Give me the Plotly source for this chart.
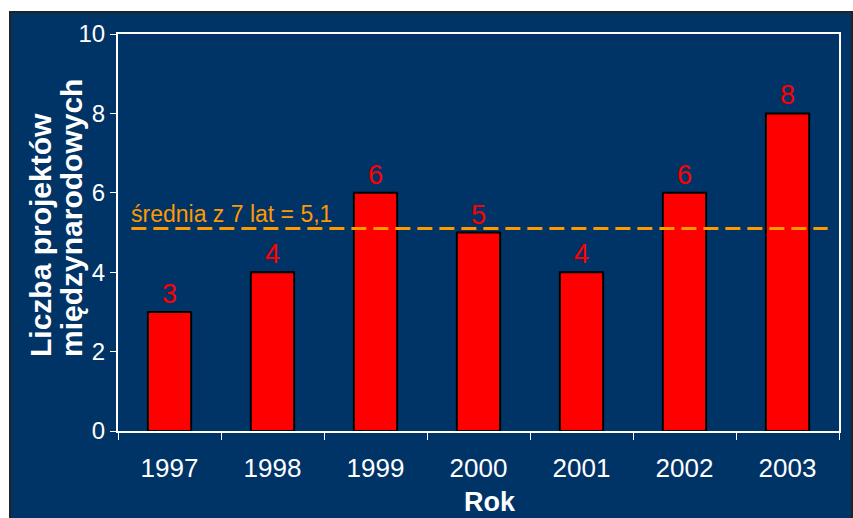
import plotly.graph_objects as go

# Number of international projects per year
years = ["1997", "1998", "1999", "2000", "2001", "2002", "2003"]
projects = [3, 4, 6, 5, 4, 6, 8]
average = 5.1
average_label = "średnia z 7 lat = 5,1"
y_ticks = [0, 2, 4, 6, 8, 10]
y_title_lines = ["Liczba projektów", "międzynarodowych"]
x_title = "Rok"

NAVY = "#003366"
FONT = "Arial, Liberation Sans, sans-serif"

# plot area in pixels: x 118..839, y 34..431
L, R, T, B = 118, 14, 34, 87
W, H = 853, 518
pw, ph = W - L - R, H - T - B


def px_x(px):
    return (px - L) / pw


def px_y(py):
    return (H - B - py) / ph


fig = go.Figure()
fig.add_trace(go.Bar(
    x=years,
    y=projects,
    marker=dict(color="#FF0000", line=dict(color="black", width=2)),
    text=[str(v) for v in projects],
    textposition="outside",
    textfont=dict(color="#FF0000", size=27, family=FONT),
    cliponaxis=False,
    width=0.42,
))

# navy panel with dark frame
fig.add_shape(type="rect", xref="paper", yref="paper", layer="below",
              x0=px_x(10), x1=px_x(852), y0=px_y(540), y1=px_y(12),
              fillcolor=NAVY, line=dict(color="#222222", width=2))

# average line
fig.add_shape(type="line", xref="x", yref="y",
              x0=-0.37, x1=6.39, y0=average, y1=average,
              line=dict(color="#FF9900", width=3, dash="15px,7px"))
fig.add_annotation(x=-0.37, y=average, xref="x", yref="y",
                   text=average_label, showarrow=False,
                   xanchor="left", yanchor="bottom", yshift=0, xshift=-2,
                   font=dict(color="#FF9900", size=23, family=FONT))

# y-axis title: two lines, aligned at the bottom (rotated)
for cx, line in zip([40, 71], y_title_lines):
    fig.add_annotation(x=px_x(cx), y=px_y(358), xref="paper", yref="paper",
                       xanchor="center", yanchor="bottom",
                       text=f"<b>{line}</b>", textangle=-90, showarrow=False,
                       borderpad=0,
                       font=dict(color="white", size=30, family=FONT))
fig.add_annotation(x=px_x(490), y=px_y(502), xref="paper", yref="paper",
                   xanchor="center", yanchor="middle", borderpad=0,
                   text=f"<b>{x_title}</b>", showarrow=False,
                   font=dict(color="white", size=27, family=FONT))

fig.update_layout(
    width=W, height=H,
    margin=dict(l=L, r=R, t=T, b=B),
    paper_bgcolor="white",
    plot_bgcolor=NAVY,
    showlegend=False,
    font=dict(family=FONT, color="white"),
    bargap=0.58,
)
fig.update_xaxes(
    showline=True, linecolor="white", linewidth=2, mirror=True,
    ticks="outside", tickson="boundaries", ticklen=7, tickcolor="white",
    tickfont=dict(size=26, color="white", family=FONT),
    ticklabelstandoff=13,
    showgrid=False, zeroline=False,
)
fig.update_yaxes(
    range=[0, 10], tickvals=y_ticks,
    showline=True, linecolor="white", linewidth=2, mirror=True,
    ticks="outside", ticklen=6, tickcolor="white",
    tickfont=dict(size=24, color="white", family=FONT),
    showgrid=False, zeroline=False,
)

fig.write_html("out.html")
